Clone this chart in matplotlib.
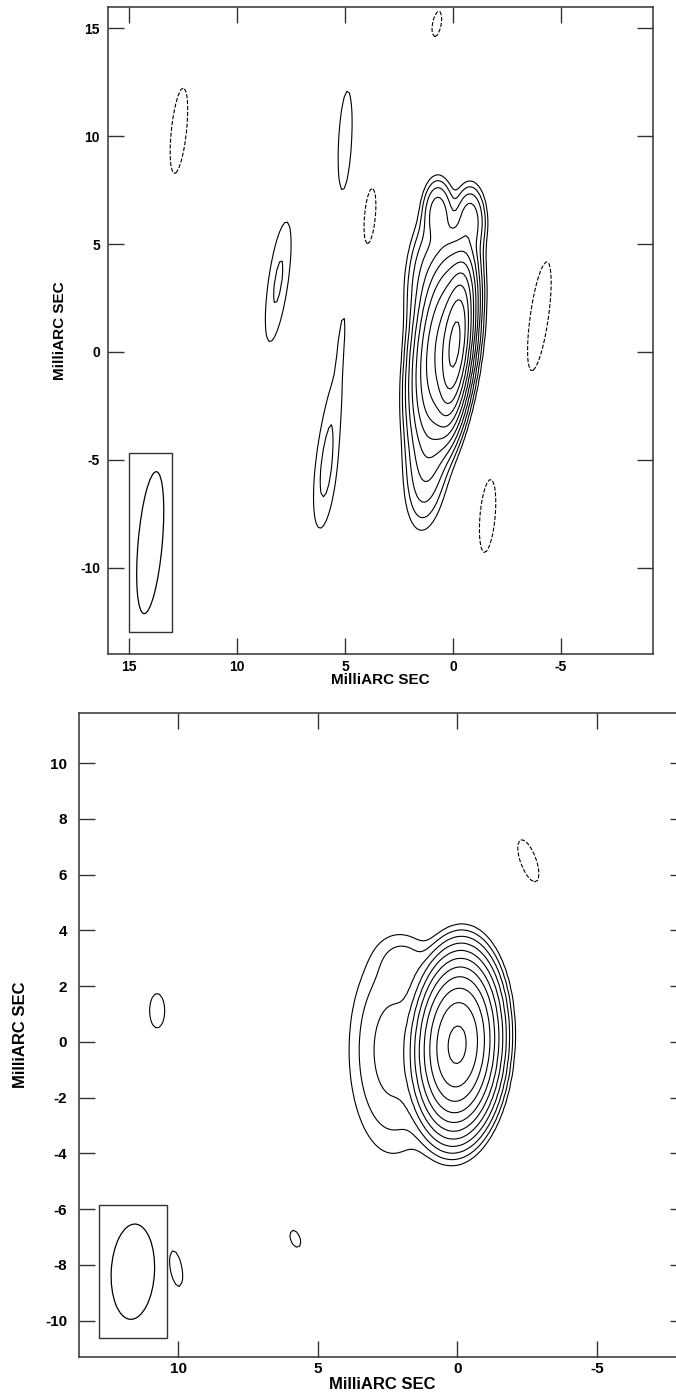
import numpy as np
import matplotlib
matplotlib.use("Agg")
import matplotlib.pyplot as plt
from matplotlib.patches import Ellipse, Rectangle

plt.rcParams["font.family"] = ["Liberation Sans", "DejaVu Sans"]
plt.rcParams["font.weight"] = "bold"
plt.rcParams["axes.unicode_minus"] = False
plt.rcParams["contour.negative_linestyle"] = "dashed"

# =====================================================
# MAP 1: gaussian components
# (x, y in mas; amplitude in units of the lowest contour; sigmas in mas; PA in deg)
# =====================================================

top_x = [-0.1, 0.45, 1.2, 0.7, -0.8, 1.2,
         12.7, 5.0, 3.85, 0.75, 8.1, 5.9, 5.45, 5.17, -4.0, -1.6]
top_y = [0.35, 0.3, 3.5, 6.4, 6.1, -5.0,
         10.25, 9.8, 6.3, 15.2, 3.25, -5.6, -2.1, 0.6, 1.65, -7.6]
top_amp = [1130, 300, 8, 12, 12, 8,
           -1.65, 1.65, -1.65, -1.65, 2.22, 2.3, 1.0, 1.3, -1.65, -1.65]
top_sx = [0.3, 0.55, 0.5, 0.35, 0.35, 0.5,
          0.35, 0.3, 0.25, 0.2, 0.36, 0.38, 0.35, 0.12, 0.42, 0.35]
top_sy = [1.45, 1.95, 1.5, 0.8, 0.8, 1.6,
          2.0, 2.3, 1.3, 0.6, 2.22, 2.0, 1.8, 1.2, 2.55, 1.7]
top_pa = [-6, -7, -5, 0, 0, -5,
          -6, -3, -5, -10, -8, -6, -8, -5, -8, -5]

# restoring beam: major, minor (mas), PA (deg), centre
top_beam = [6.6, 1.12, -5, 14.03, -8.84]

# =====================================================
# MAP 2: gaussian components
# =====================================================

bot_x = [0.0, 2.3, 1.9, -2.55, 10.75, 5.8, 10.07]
bot_y = [-0.1, -0.3, 2.9, 6.5, 1.12, -7.06, -8.13]
bot_amp = [1218, 5.5, 1.8, -1.65, 1.65, 1.65, 1.65]
bot_sx = [0.55, 0.85, 0.55, 0.28, 0.27, 0.17, 0.21]
bot_sy = [1.15, 2.0, 0.55, 0.8, 0.62, 0.32, 0.65]
bot_pa = [-3, 0, 0, 20, 0, 20, 10]

bot_beam = [3.42, 1.55, -3, 11.62, -8.24]

# contour levels: -1, 1, 2, 4 ... 1024 x lowest contour
levels = [-1, 1, 2, 4, 8, 16, 32, 64, 128, 256, 512, 1024]


def make_map(xs, ys, amps, sxs, sys_, pas):
    gx = np.arange(-18, 18, 0.12)
    gy = np.arange(-18, 18, 0.12)
    X, Y = np.meshgrid(gx, gy)
    Z = np.zeros_like(X)
    for x0, y0, a, sx, sy, pa in zip(xs, ys, amps, sxs, sys_, pas):
        t = np.deg2rad(pa)
        dx = X - x0
        dy = Y - y0
        u = dx * np.cos(t) - dy * np.sin(t)
        v = dx * np.sin(t) + dy * np.cos(t)
        Z += a * np.exp(-0.5 * (u ** 2 / sx ** 2 + v ** 2 / sy ** 2))
    return X, Y, Z


def style_axes(ax, tick_size, label_size, pad_x, pad_y):
    for s in ax.spines.values():
        s.set_color("#333333")
        s.set_linewidth(1.1)
    ax.tick_params(axis="both", which="major", direction="in",
                   length=11.5, width=1.0, color="#333333",
                   top=True, right=True, labelsize=tick_size)
    ax.tick_params(axis="x", pad=pad_x)
    ax.tick_params(axis="y", pad=pad_y)
    for lab in ax.get_xticklabels() + ax.get_yticklabels():
        lab.set_fontweight("bold")
    ax.set_xlabel("MilliARC SEC", fontsize=label_size, fontweight="bold")
    ax.set_ylabel("MilliARC SEC", fontsize=label_size, fontweight="bold")


def draw_beam(ax, beam, box):
    bmaj, bmin, bpa, bx, by = beam
    ax.add_patch(Rectangle((box[0], box[1]), box[2], box[3],
                           fill=False, edgecolor="#333333", linewidth=1.0))
    # x runs east to west, so the patch angle flips sign
    ax.add_patch(Ellipse((bx, by), width=bmin, height=bmaj, angle=-bpa,
                         fill=False, edgecolor="black", linewidth=0.9))


fig = plt.figure(figsize=(6.76, 13.97), dpi=100)

# =====================================================
# TOP PANEL
# =====================================================

ax1 = fig.add_axes([107.7 / 676, 1 - 654 / 1397, 545 / 676, 647.3 / 1397])
X, Y, Z = make_map(top_x, top_y, top_amp, top_sx, top_sy, top_pa)
ax1.contour(X, Y, Z, levels=levels, colors="black", linewidths=0.8)
draw_beam(ax1, top_beam, (13.0, -13.0, 2.0, 8.3))
ax1.set_xlim(16, -9.25)
ax1.set_ylim(-14, 16)
ax1.set_xticks([15, 10, 5, 0, -5])
ax1.set_yticks([-10, -5, 0, 5, 10, 15])
style_axes(ax1, 10, 11, 4, 5.5)
ax1.xaxis.set_label_coords(0.5, -0.030)
ax1.yaxis.set_label_coords(-0.074, 0.5)

# =====================================================
# BOTTOM PANEL
# =====================================================

ax2 = fig.add_axes([79 / 676, 1 - 1357 / 1397, 607 / 676, 644 / 1397])
X, Y, Z = make_map(bot_x, bot_y, bot_amp, bot_sx, bot_sy, bot_pa)
ax2.contour(X, Y, Z, levels=levels, colors="black", linewidths=0.8)
draw_beam(ax2, bot_beam, (10.38, -10.62, 2.46, 4.77))
ax2.set_xlim(13.55, -8.2)
ax2.set_ylim(-11.3, 11.8)
ax2.set_xticks([10, 5, 0, -5])
ax2.set_yticks(np.arange(-10, 11, 2))
style_axes(ax2, 11, 12, 3.5, 8.5)
ax2.xaxis.set_label_coords(0.5, -0.031)
ax2.yaxis.set_label_coords(-0.084, 0.5)

fig.savefig("out.png", dpi=100)
